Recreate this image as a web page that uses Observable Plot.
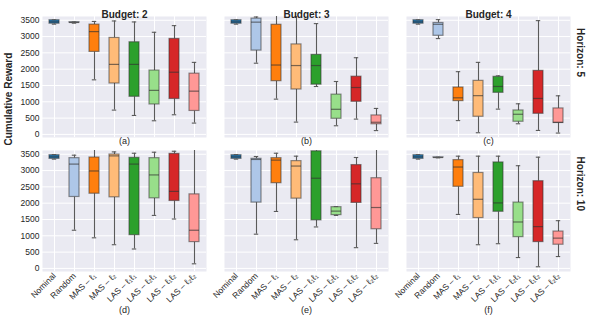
<!DOCTYPE html>
<html>
<head>
<meta charset="utf-8">
<script src="https://cdn.jsdelivr.net/npm/d3@7"></script>
<script src="https://cdn.jsdelivr.net/npm/@observablehq/plot@0.6"></script>
<style>
  html, body { margin: 0; padding: 0; background: white; }
</style>
</head>
<body>
<div id="chart"></div>
<script>
// Categories (x), facets, ticks
const categories = ["Nominal", "Random", "MAS – ℓ₁", "MAS – ℓ₂", "LAS – ℓ₁ℓ₁", "LAS – ℓ₂ℓ₁", "LAS – ℓ₁ℓ₂", "LAS – ℓ₂ℓ₂"];
const colors = ["#1f77b4", "#aec7e8", "#ff7f0e", "#ffbb78", "#2ca02c", "#98df8a", "#d62728", "#ff9896"];
const budgets = [2, 3, 4];
const horizons = [5, 10];
const yTicks = [0, 500, 1000, 1500, 2000, 2500, 3000, 3500];
const captions = ["(a)", "(b)", "(c)", "(d)", "(e)", "(f)"];

// Box stats per category: [lower whisker, q1, median, q3, upper whisker]
const panelA = [ // Budget 2, Horizon 5
  [3380, 3395, 3450, 3500, 3515],
  [3410, 3425, 3432, 3440, 3450],
  [1673, 2530, 3152, 3366, 3463],
  [745, 1561, 2147, 2958, 3478],
  [581, 1153, 2147, 2825, 3448],
  [418, 918, 1350, 1958, 3131],
  [602, 1086, 1907, 2927, 3335],
  [347, 719, 1326, 1862, 2208]
];
const panelB = [ // Budget 3, Horizon 5
  [3380, 3395, 3450, 3500, 3515],
  [2183, 2570, 3442, 3550, 3600],
  [1081, 1632, 2127, 3361, 3750],
  [377, 1377, 2111, 2759, 3750],
  [1469, 1525, 2111, 2438, 3397],
  [265, 479, 770, 1219, 1622],
  [469, 1000, 1438, 1770, 2351],
  [117, 311, 372, 581, 796]
];
const panelC = [ // Budget 4, Horizon 5
  [3380, 3395, 3450, 3500, 3515],
  [2938, 3024, 3376, 3417, 3519],
  [423, 1020, 1122, 1438, 1923],
  [51, 541, 1188, 1642, 2208],
  [775, 1275, 1469, 1765, 1795],
  [326, 388, 617, 734, 938],
  [122, 632, 1102, 1948, 3488],
  [41, 350, 370, 796, 1183]
];
const panelD = [ // Budget 2, Horizon 10
  [3350, 3360, 3420, 3470, 3490],
  [1170, 2190, 3198, 3380, 3471],
  [938, 2290, 2987, 3400, 3750],
  [726, 2180, 3450, 3491, 3572],
  [595, 1019, 3198, 3390, 3531],
  [1625, 2149, 2866, 3380, 3562],
  [1514, 2068, 2361, 3511, 3592],
  [141, 807, 1170, 2270, 3750]
];
const panelE = [ // Budget 3, Horizon 10
  [3350, 3360, 3420, 3470, 3490],
  [1049, 2018, 3340, 3360, 3431],
  [1746, 2613, 3320, 3380, 3531],
  [878, 2139, 3138, 3289, 3441],
  [1271, 1473, 2765, 3590, 3750],
  [1624, 1634, 1756, 1877, 1897],
  [636, 2008, 2593, 3168, 3400],
  [767, 1201, 1867, 2765, 3750]
];
const panelF = [ // Budget 4, Horizon 10
  [3350, 3360, 3420, 3470, 3490],
  [3390, 3395, 3400, 3405, 3410],
  [1655, 2502, 3108, 3320, 3441],
  [726, 1544, 2119, 2926, 3441],
  [757, 1736, 2008, 3249, 3441],
  [333, 959, 1423, 2018, 3148],
  [50, 807, 1281, 2674, 3410],
  [363, 726, 928, 1130, 1463]
];

const panels = [
  {b: 2, h: 5, stats: panelA}, {b: 3, h: 5, stats: panelB}, {b: 4, h: 5, stats: panelC},
  {b: 2, h: 10, stats: panelD}, {b: 3, h: 10, stats: panelE}, {b: 4, h: 10, stats: panelF}
];

const rows = panels.flatMap(p => p.stats.map((s, i) => ({
  b: p.b, h: p.h, cat: categories[i],
  lo: s[0], q1: s[1], med: s[2], q3: s[3], hi: s[4]
})));

const capRows = panels.map((p, i) => ({b: p.b, h: p.h, text: captions[i]}));
const titleRows = budgets.map(b => ({b, h: horizons[0]}));
const horizonRows = horizons.map(h => ({b: budgets[budgets.length - 1], h}));

const fonts = "'Liberation Sans', Arial, 'DejaVu Sans', sans-serif";
const lineCol = "#5a5a5a";

const chart = Plot.plot({
  width: 593,
  height: 318,
  marginTop: 16,
  marginBottom: 46,
  marginLeft: 42,
  marginRight: 23,
  style: {fontFamily: fonts, fontSize: "8.5px", color: "#262626", background: "white"},
  fx: {domain: budgets, padding: 0.1, axis: null, label: null},
  fy: {domain: horizons, padding: 0.095, axis: null, label: null},
  x: {domain: categories, paddingInner: 0.48, paddingOuter: 0.24, label: null},
  y: {domain: [-95, 3615], label: null},
  color: {domain: categories, range: colors},
  marks: [
    Plot.frame({fill: "#eaeaf2", stroke: "none"}),
    Plot.gridY({ticks: yTicks, stroke: "white", strokeOpacity: 1, strokeWidth: 1}),
    Plot.gridX({stroke: "white", strokeOpacity: 1, strokeWidth: 1}),
    Plot.axisY({ticks: yTicks, tickFormat: d => String(d), tickSize: 0, tickPadding: 3, label: null}),
    Plot.axisX({tickRotate: -45, tickSize: 0, tickPadding: 3, label: null}),
    // whiskers
    Plot.ruleX(rows, {fx: "b", fy: "h", x: "cat", y1: "lo", y2: "q1", stroke: lineCol, strokeWidth: 1.1, clip: true}),
    Plot.ruleX(rows, {fx: "b", fy: "h", x: "cat", y1: "q3", y2: "hi", stroke: lineCol, strokeWidth: 1.1, clip: true}),
    // boxes
    Plot.barY(rows, {fx: "b", fy: "h", x: "cat", y1: "q1", y2: "q3", fill: "cat", stroke: "#333", strokeOpacity: 0.55, strokeWidth: 1.2, clip: true}),
    // medians
    Plot.tickY(rows, {fx: "b", fy: "h", x: "cat", y: "med", stroke: "#333", strokeOpacity: 0.65, strokeWidth: 1.2}),
    // caps
    Plot.tickY(rows, {fx: "b", fy: "h", x: "cat", y: "lo", stroke: lineCol, strokeWidth: 1.1, insetLeft: 2.8, insetRight: 2.8, clip: true}),
    Plot.tickY(rows, {fx: "b", fy: "h", x: "cat", y: "hi", stroke: lineCol, strokeWidth: 1.1, insetLeft: 2.8, insetRight: 2.8, clip: true}),
    // column titles
    Plot.text(titleRows, {fx: "b", fy: "h", frameAnchor: "top", dy: -6, text: d => `Budget: ${d.b}`, fontWeight: "bold", fontSize: 10, fill: "#262626"}),
    // row titles
    Plot.text(horizonRows, {fx: "b", fy: "h", frameAnchor: "right", dx: 10, rotate: 90, text: d => `Horizon: ${d.h}`, fontWeight: "bold", fontSize: 10, fill: "#262626"}),
    // panel captions
    Plot.text(capRows.filter(d => d.h === horizons[0]), {fx: "b", fy: "h", frameAnchor: "bottom", dy: 6, text: "text", fontSize: 9, fill: "#262626"}),
    Plot.text(capRows.filter(d => d.h === horizons[1]), {fx: "b", fy: "h", frameAnchor: "bottom", dy: 41, text: "text", fontSize: 9, fill: "#262626"}),
    // y label
    Plot.text([{b: budgets[0], h: horizons[0]}], {fx: "b", fy: "h", frameAnchor: "bottom-left", dx: -31, dy: 8, rotate: -90, text: () => "Cumulative Reward", fontWeight: "bold", fontSize: 10, fill: "#262626"})
  ]
});

document.getElementById("chart").appendChild(chart);
</script>
</body>
</html>
